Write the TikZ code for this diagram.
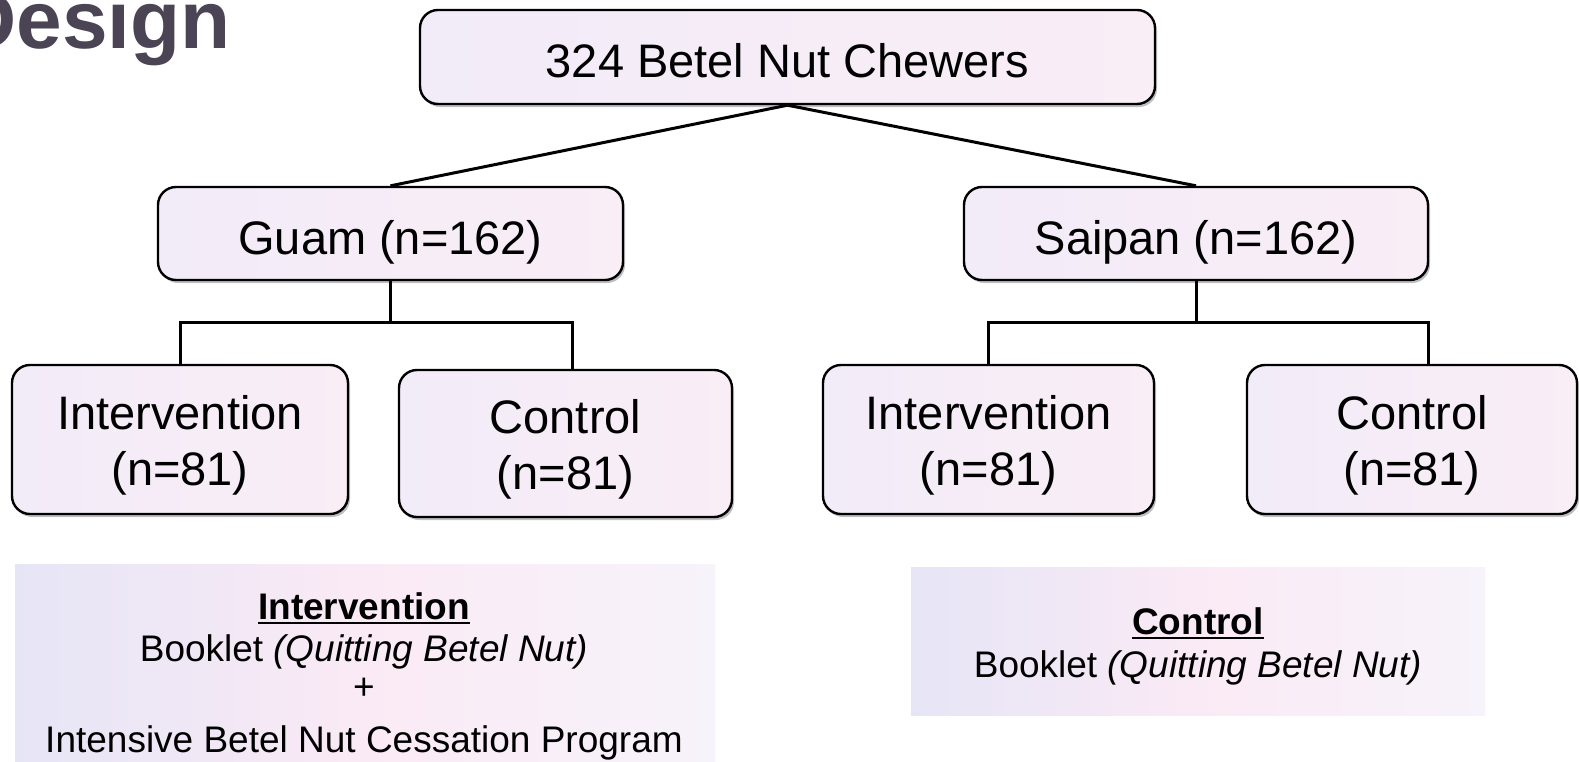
\documentclass[tikz,border=0pt]{standalone}
\usepackage{fontspec}
\setmainfont{Liberation Sans}
\usetikzlibrary{shadows}
\definecolor{boxfill}{RGB}{249,237,246}
\definecolor{boxfillL}{RGB}{242,236,248}
\definecolor{titlecol}{RGB}{75,68,84}
\definecolor{panelL}{RGB}{230,229,246}
\definecolor{panelM}{RGB}{250,234,245}
\definecolor{panelR}{RGB}{247,243,250}
\newcommand{\dnby}[2]{\raisebox{-#1}[\height][\depth]{#2}}
\begin{document}
\begin{tikzpicture}[x=1pt,y=-1pt,
  box/.style={draw=black, line width=2.4pt, rounded corners=18pt,
    left color=boxfillL, right color=boxfill,
    drop shadow={shadow xshift=2pt,shadow yshift=-3pt,fill=black,opacity=0.25},
    align=center, font=\fontsize{47}{56}\selectfont, inner sep=0pt},
  conn/.style={line width=3pt, draw=black},
  panel/.style={left color=panelL, right color=panelR, middle color=panelM, draw=none, inner sep=0pt},
  ptext/.style={font=\fontsize{37}{40}\selectfont, inner sep=0pt, anchor=base},
  ulin/.style={line width=2.5pt}
]
\useasboundingbox (0,0) rectangle (1579,761);
\fill[white] (0,0) rectangle (1579,761);

% title (cut by the page edge)
\begin{scope}
\clip (0,0) rectangle (1579,761);
\node[anchor=base east, font=\fontsize{82}{90}\selectfont\bfseries, text=titlecol, inner sep=0pt] (title) at (231,48) {Design};
\end{scope}

% description panels
\node[panel, minimum width=700pt, minimum height=197pt, anchor=north west] (pl) at (15,564) {};
\node[panel, minimum width=574pt, minimum height=148pt, anchor=north west] (pr) at (911,567) {};

% boxes
\node[box, minimum width=735pt, minimum height=94pt] (top) at (787.5,57) {\dnby{4pt}{324 Betel Nut Chewers}};
\node[box, minimum width=465pt, minimum height=93pt] (guam) at (390.5,233.5) {\dnby{9pt}{Guam (n=162)}};
\node[box, minimum width=464pt, minimum height=93pt] (saipan) at (1196,233.5) {\dnby{9pt}{Saipan (n=162)}};
\node[box, minimum width=336pt, minimum height=149pt] (gi) at (180,439.5) {\dnby{6pt}{Intervention}\\\dnby{6pt}{(n=81)}};
\node[box, minimum width=333pt, minimum height=147pt] (gc) at (565.5,443.5) {\dnby{6pt}{Control}\\\dnby{6pt}{(n=81)}};
\node[box, minimum width=331pt, minimum height=149pt] (si) at (988.5,439.5) {\dnby{6pt}{Intervention}\\\dnby{6pt}{(n=81)}};
\node[box, minimum width=330pt, minimum height=149pt] (sc) at (1412,439.5) {\dnby{6pt}{Control}\\\dnby{6pt}{(n=81)}};

% connectors
\draw[conn] (top.south) -- (guam.north);
\draw[conn] (top.south) -- (saipan.north);
\coordinate (gj) at (guam.south |- 0,322);
\coordinate (sj) at (saipan.south |- 0,322);
\draw[conn] (guam.south) -- (gj);
\draw[conn] (gi.north) |- (gj) -| ([xshift=7pt]gc.north);
\draw[conn] (saipan.south) -- (sj);
\draw[conn] (si.north) |- (sj) -| ([xshift=16pt]sc.north);

% panel texts
\node[ptext, font=\fontsize{37}{40}\selectfont\bfseries] (pl1) at (364,619) {Intervention};
\draw[ulin] ([yshift=-4pt]pl1.base west) -- ([yshift=-4pt]pl1.base east);
\node[ptext] (pl2) at (364,661) {Booklet \textit{(Quitting Betel Nut)}};
\node[ptext] (pl3) at (364,699) {+};
\node[ptext] (pl4) at (364,752) {Intensive Betel Nut Cessation Program};

\node[ptext, font=\fontsize{37}{40}\selectfont\bfseries] (pr1) at (1198,634) {Control};
\draw[ulin] ([yshift=-4pt]pr1.base west) -- ([yshift=-4pt]pr1.base east);
\node[ptext] (pr2) at (1198,677) {Booklet \textit{(Quitting Betel Nut)}};
\end{tikzpicture}
\end{document}
